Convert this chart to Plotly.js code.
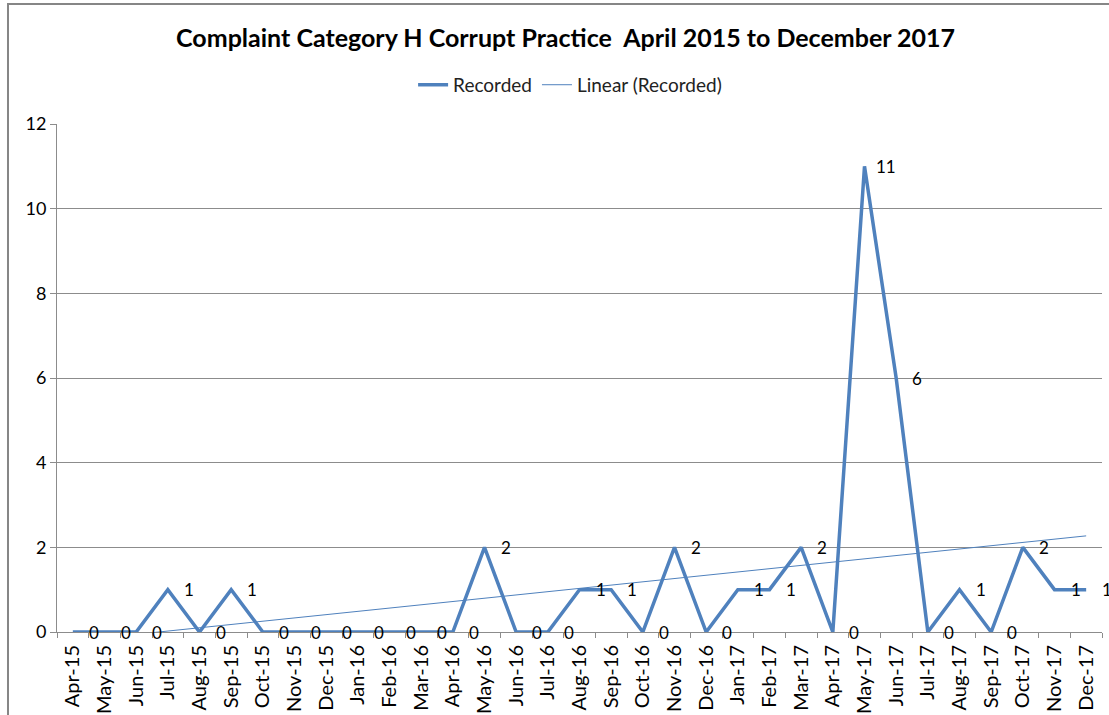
<!DOCTYPE html>
<html>
<head>
<meta charset="utf-8">
<script src="https://cdn.plot.ly/plotly-3.0.1.min.js"></script>
<style>html,body{margin:0;padding:0;background:#fff;} #chart{width:1109px;height:715px;}</style>
</head>
<body>
<div id="chart"></div>
<script>
const months = ["Apr-15","May-15","Jun-15","Jul-15","Aug-15","Sep-15","Oct-15","Nov-15","Dec-15","Jan-16","Feb-16","Mar-16","Apr-16","May-16","Jun-16","Jul-16","Aug-16","Sep-16","Oct-16","Nov-16","Dec-16","Jan-17","Feb-17","Mar-17","Apr-17","May-17","Jun-17","Jul-17","Aug-17","Sep-17","Oct-17","Nov-17","Dec-17"];
const recorded = [0,0,0,1,0,1,0,0,0,0,0,0,0,2,0,0,1,1,0,2,0,1,1,2,0,11,6,0,1,0,2,1,1];
const yTicks = [0,2,4,6,8,10,12];

// Linear trendline (least squares on month index), as Excel's "Linear (Recorded)"
const n = recorded.length;
const xs = recorded.map((_, i) => i + 1);
const mx = xs.reduce((a, b) => a + b, 0) / n;
const my = recorded.reduce((a, b) => a + b, 0) / n;
let sxy = 0, sxx = 0;
for (let i = 0; i < n; i++) { sxy += (xs[i] - mx) * (recorded[i] - my); sxx += (xs[i] - mx) ** 2; }
const slope = sxy / sxx, intercept = my - slope * mx;
const trend = xs.map(x => intercept + slope * x);

const FONT = "Lato, 'Open Sans', sans-serif";
const BLUE = "#4F81BD";
const GRID = "#8c8c8c";

const traces = [
  {x: months, y: recorded, type: "scatter", mode: "lines", name: "Recorded",
   line: {color: BLUE, width: 3.5}, cliponaxis: false},
  {x: months, y: trend, type: "scatter", mode: "lines", name: "Linear (Recorded)",
   line: {color: BLUE, width: 1}}
];

const annotations = months.map((m, i) => ({
  x: m, y: recorded[i], text: String(recorded[i]), showarrow: false,
  xref: "x", yref: "y", xshift: 21, font: {family: FONT, size: 17, color: "#000"}
}));

const layout = {
  width: 1109, height: 715,
  margin: {l: 57, r: 7, t: 124, b: 83},
  paper_bgcolor: "#fff", plot_bgcolor: "#fff",
  font: {family: FONT, color: "#000"},
  title: {text: "<b>Complaint Category H Corrupt Practice  April 2015 to December 2017</b>",
          font: {family: FONT, size: 25, color: "#000"}, x: 0.51, xanchor: "center", y: 0.947, yanchor: "middle"},
  showlegend: true,
  legend: {orientation: "h", x: 0.491, xanchor: "center", y: 1.077, yanchor: "middle",
           font: {family: FONT, size: 19, color: "#222"}, bgcolor: "rgba(0,0,0,0)"},
  xaxis: {type: "category", categoryorder: "array", categoryarray: months, range: [-0.5, 32.5],
          tickangle: -90, tickson: "boundaries", ticks: "outside", ticklen: 5, tickcolor: GRID,
          ticklabelstandoff: 4,
          showline: true, linecolor: GRID, linewidth: 1, showgrid: false, zeroline: false,
          tickfont: {family: FONT, size: 20, color: "#000"}, fixedrange: true},
  yaxis: {range: [0, 12], tickvals: yTicks, ticks: "outside", ticklen: 6, tickcolor: GRID,
          showline: true, linecolor: GRID, linewidth: 1, showgrid: true, gridcolor: GRID, gridwidth: 1,
          zeroline: false, tickfont: {family: FONT, size: 18, color: "#000"}, fixedrange: true},
  annotations: annotations,
  shapes: [{type: "rect", xref: "paper", yref: "paper", x0: -0.0469, x1: 1.02, y0: -0.17, y1: 1.236,
            line: {color: "#868686", width: 2}, fillcolor: "rgba(0,0,0,0)", layer: "below"}]
};

Plotly.newPlot("chart", traces, layout, {displayModeBar: false, staticPlot: true});
</script>
</body>
</html>
